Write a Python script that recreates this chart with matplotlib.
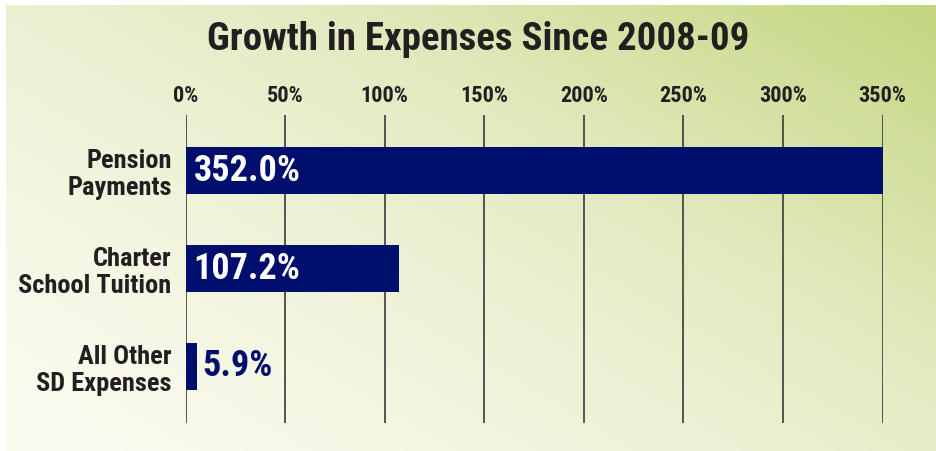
import numpy as np
import matplotlib.pyplot as plt
from matplotlib.colors import LinearSegmentedColormap

categories = ["Pension\nPayments", "Charter\nSchool Tuition", "All Other\nSD Expenses"]
growth = [352.0, 107.2, 5.9]
value_labels = ["352.0%", "107.2%", "5.9%"]
ticks = [0, 50, 100, 150, 200, 250, 300, 350]
tick_labels = ["0%", "50%", "100%", "150%", "200%", "250%", "300%", "350%"]

navy = "#000f6e"
ink = "#231f20"
plt.rcParams['font.family'] = ["Roboto Condensed", "DejaVu Sans"]
plt.rcParams['font.weight'] = 900

W, H = 936, 451
fig = plt.figure(figsize=(W / 100, H / 100), dpi=100)

# background gradient panel
bg = fig.add_axes([6 / W, 0, 1 - 6 / W, 1 - 5 / H])
u, v = np.meshgrid(np.linspace(0, 1, 300), np.linspace(0, 1, 150))
t = (0.55 * u + 0.45 * v) ** 1.4
cmap = LinearSegmentedColormap.from_list("bg", ["#fbfbf0", "#e4ebc2", "#c3d67f"])
bg.imshow(t, cmap=cmap, origin="lower", aspect="auto", extent=[0, 1, 0, 1])
bg.axis("off")

# main axes
x0, x1 = 185.5, 882.5
ytop, ybot = 115, 423
ax = fig.add_axes([x0 / W, 1 - ybot / H, (x1 - x0) / W, (ybot - ytop) / H])
ax.patch.set_alpha(0)
ax.set_xlim(0, 350)
ax.set_ylim(2.58, -0.57)

for xt in ticks:
    ax.axvline(xt, color="#3a3a3a", lw=1.2, zorder=1)

y = np.arange(len(categories))
ax.barh(y, growth, height=0.48, color=navy, zorder=2)

for yi, val, lab in zip(y, growth, value_labels):
    if val > 50:
        ax.text(4, yi, lab, color="white", fontsize=26, fontweight=900,
                va="center", ha="left", zorder=3)
    else:
        ax.text(val + 2.5, yi, lab, color=navy, fontsize=26, fontweight=900,
                va="center", ha="left", zorder=3)

ax.set_yticks(y)
ax.set_yticklabels(categories, fontsize=19, fontweight=900, color=ink,
                   linespacing=1.15)
ax.xaxis.tick_top()
ax.set_xticks(ticks)
ax.set_xticklabels(tick_labels, fontsize=16, fontweight=900, color=ink)
ax.tick_params(length=0, pad=6)
ax.tick_params(axis="y", pad=10)
for s in ax.spines.values():
    s.set_visible(False)

fig.text(478 / W, 1 - 39 / H, "Growth in Expenses Since 2008-09", fontsize=28,
         fontweight=900, color=ink, ha="center", va="center")

fig.savefig("out.png", dpi=100)
